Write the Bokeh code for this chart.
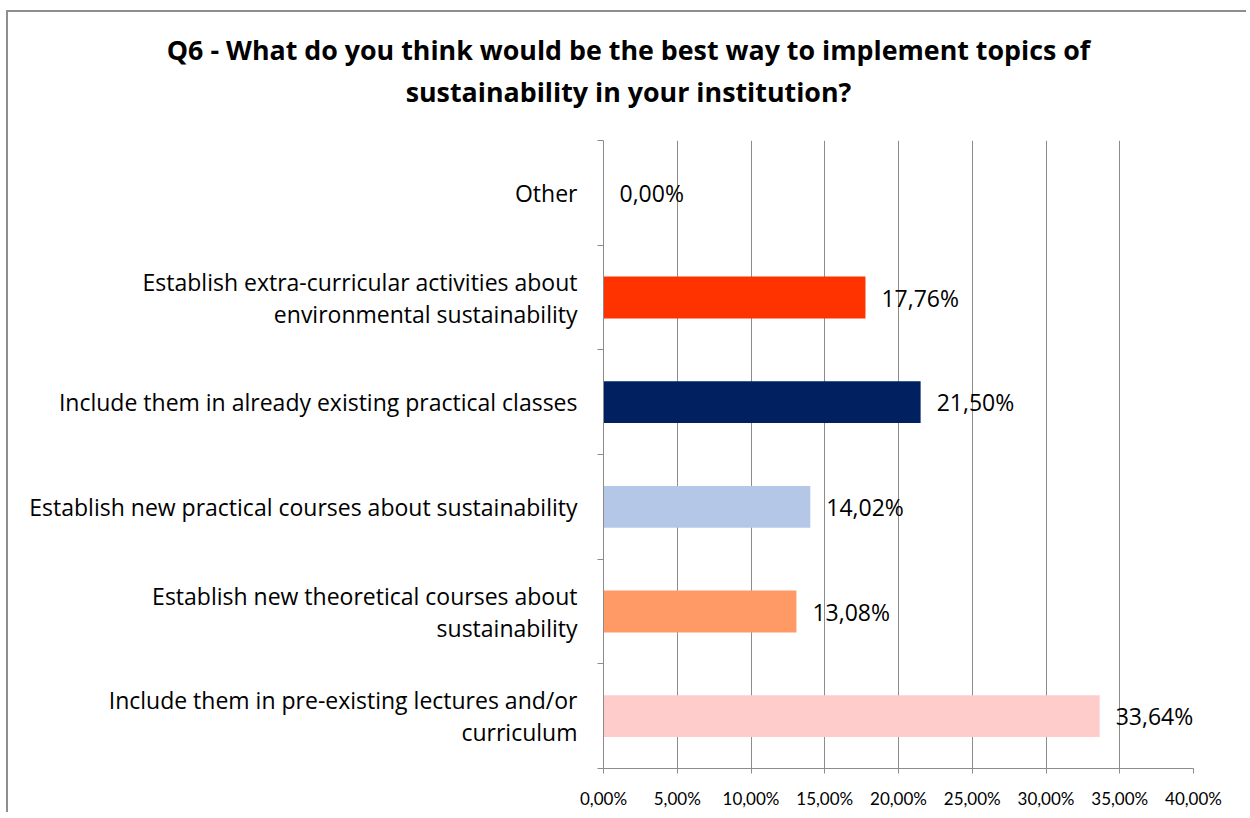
from bokeh.plotting import figure
from bokeh.models import ColumnDataSource, LabelSet, Label, FixedTicker, CustomJSTickFormatter
from bokeh.core.properties import value
from bokeh.embed import file_html
from bokeh.resources import INLINE

# ---- data (bottom to top) ----
categories = [
    "Include them in pre-existing lectures and/or\ncurriculum",
    "Establish new theoretical courses about\nsustainability",
    "Establish new practical courses about sustainability",
    "Include them in already existing practical classes",
    "Establish extra-curricular activities about\nenvironmental sustainability",
    "Other",
]
values = [33.64, 13.08, 14.02, 21.50, 17.76, 0.00]
colors = ["#FFCCCC", "#FF9966", "#B4C7E7", "#002060", "#FF3300", "#FFFFFF"]
x_ticks = [0, 5, 10, 15, 20, 25, 30, 35, 40]
title_text = "Q6 - What do you think would be the best way to implement topics of\nsustainability in your institution?"

FONT = "Open Sans"
GRID = "#8C8C8C"
BORDER = "2px solid #8E8E8E"
W = 1240
TH = 128

pos = [i + 0.5 for i in range(len(categories))]
labels = [f"{v:.2f}%".replace(".", ",") for v in values]
src = ColumnDataSource(dict(y=pos, v=values, c=colors, lab=labels, zero=[0] * len(values)))

# ---- title strip (separate root, full-width frame) ----
tf = figure(width=W, height=TH, x_range=(0, 1), y_range=(TH, 0),
            output_backend="svg", toolbar_location=None, title=None,
            min_border=0, min_border_left=0, min_border_right=0,
            min_border_top=0, min_border_bottom=0)
tf.axis.visible = False
tf.grid.grid_line_color = None
tf.outline_line_color = None
tf.add_layout(Label(x=0.5, y=58, text=title_text, text_align="center", text_baseline="middle",
                    text_font=FONT, text_font_style="bold", text_font_size="26.8px",
                    text_color="black", text_line_height=1.13))
tf.margin = (10, 0, 0, 6)
tf.styles = {"border-left": BORDER, "border-top": BORDER}

# ---- main chart ----
p = figure(width=W, height=674, x_range=(0, 40), y_range=(0, 6),
           output_backend="svg", toolbar_location=None, title=None,
           min_border_left=595, min_border_right=W + 8 - 1193, min_border_top=2, min_border_bottom=44)
p.outline_line_color = None
p.background_fill_color = "white"
p.border_fill_color = "white"
p.margin = (0, 0, 0, 6)
p.styles = {"border-left": BORDER}

p.hbar(y="y", left="zero", right="v", height=0.4, fill_color="c", line_color=None, source=src)

# x axis
p.xaxis.ticker = FixedTicker(ticks=x_ticks)
p.xaxis.formatter = CustomJSTickFormatter(code="return tick.toFixed(2).replace('.', ',') + '%';")
p.xaxis.axis_line_color = GRID
p.xaxis.major_tick_line_color = GRID
p.xaxis.major_tick_out = 5
p.xaxis.major_tick_in = 0
p.xaxis.minor_tick_line_color = None
p.xaxis.major_label_text_font = "Lato"
p.xaxis.major_label_text_font_size = "17px"
p.xaxis.major_label_text_color = "black"
p.xaxis.major_label_standoff = 14

# y axis: labels at category centres, ticks (minor) at category boundaries
p.yaxis.ticker = FixedTicker(ticks=pos, minor_ticks=list(range(len(categories) + 1)))
p.yaxis.major_label_overrides = {pv: c for pv, c in zip(pos, categories)}
p.yaxis.major_label_text_font = FONT
p.yaxis.major_label_text_font_size = "23px"
p.yaxis.major_label_text_color = "black"
p.yaxis.major_label_text_line_height = 1.0
p.yaxis.axis_line_color = GRID
p.yaxis.major_tick_line_color = None
p.yaxis.major_tick_out = 0
p.yaxis.major_tick_in = 0
p.yaxis.minor_tick_line_color = GRID
p.yaxis.minor_tick_out = 6
p.yaxis.minor_tick_in = 0
p.yaxis.major_label_standoff = 20

p.xgrid.grid_line_color = GRID
p.xgrid.grid_line_width = 1
p.ygrid.grid_line_color = None

# value labels
p.add_layout(LabelSet(x="v", y="y", text="lab", source=src, x_offset=16,
                      text_align="left", text_baseline="middle",
                      text_font=value(FONT), text_font_size=value("23px"), text_color=value("black")))

open("out.html", "w").write(file_html([tf, p], INLINE))
